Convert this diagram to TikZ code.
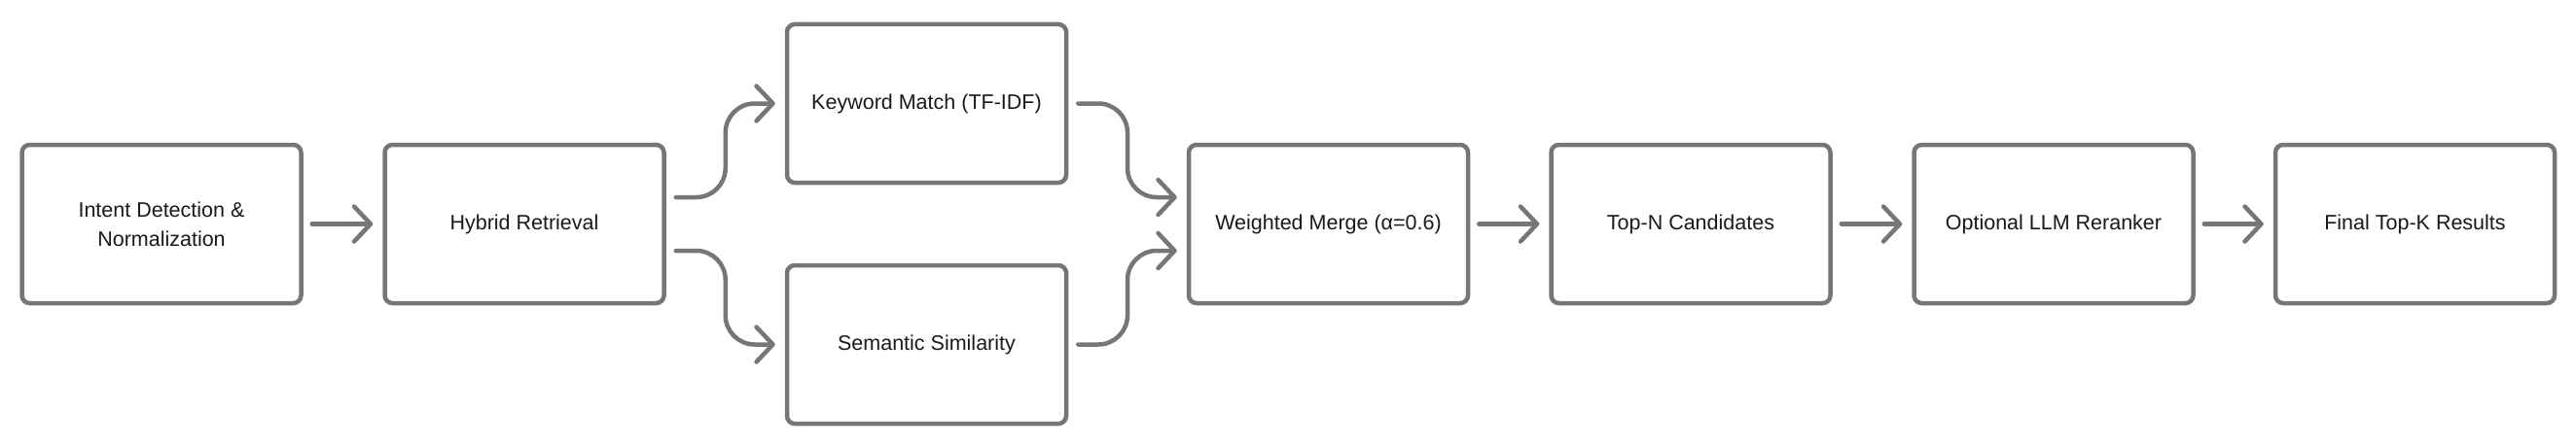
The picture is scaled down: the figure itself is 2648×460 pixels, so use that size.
\documentclass[tikz,border=0pt]{standalone}
\usepackage{fontspec}
\setmainfont{Liberation Sans}
\usetikzlibrary{arrows.meta,calc}
\definecolor{edgegray}{HTML}{767676}
\definecolor{ink}{HTML}{1A1A1A}
\begin{document}
\begin{tikzpicture}[x=1pt,y=-1pt,
  box/.style={draw=edgegray, line width=4.5pt, rounded corners=8pt, fill=white,
    minimum width=287pt, minimum height=163pt, align=center, text=ink,
    font=\fontsize{21.5}{30}\selectfont, inner sep=0pt},
  link/.style={draw=edgegray, line width=4.5pt, line cap=round, line join=round,
    -{Straight Barb[length=17pt,width=36pt,round]}, shorten <=9pt, shorten >=10pt},
  bendlink/.style={link, rounded corners=30pt, shorten <=0pt}]
\useasboundingbox (0,0) rectangle (2648,460);

\node[box] (ind) at (166,230.5) {Intent Detection \&\\Normalization};
\node[box] (hyb) at (539,230.5) {Hybrid Retrieval};
\node[box] (kw)  at (952.5,106.5) {Keyword Match (TF-IDF)};
\node[box] (sem) at (952.5,354.5) {Semantic Similarity};
\node[box] (wm)  at (1365.5,230.5) {Weighted Merge (α=0.6)};
\node[box] (topn) at (1738,230.5) {Top-N Candidates};
\node[box] (rr)  at (2111,230.5) {Optional LLM Reranker};
\node[box] (fin) at (2482.5,230.5) {Final Top-K Results};

\coordinate (m1) at ($(hyb.east)!0.5!(kw.west)$);
\coordinate (m2) at ($(kw.east)!0.5!(wm.west)$);

\draw[link] (ind) -- (hyb);
\draw[bendlink] ($(hyb.east)+(10,-27.5)$) -- ($(m1|-hyb.east)+(0,-27.5)$) |- (kw.west);
\draw[bendlink] ($(hyb.east)+(10,27.5)$) -- ($(m1|-hyb.east)+(0,27.5)$) |- (sem.west);
\draw[bendlink] ($(kw.east)+(10,0)$) -- (m2|-kw.east) |- ($(wm.west)+(0,-27.5)$);
\draw[bendlink] ($(sem.east)+(10,0)$) -- (m2|-sem.east) |- ($(wm.west)+(0,27.5)$);
\draw[link] (wm) -- (topn);
\draw[link] (topn) -- (rr);
\draw[link] (rr) -- (fin);
\end{tikzpicture}
\end{document}
